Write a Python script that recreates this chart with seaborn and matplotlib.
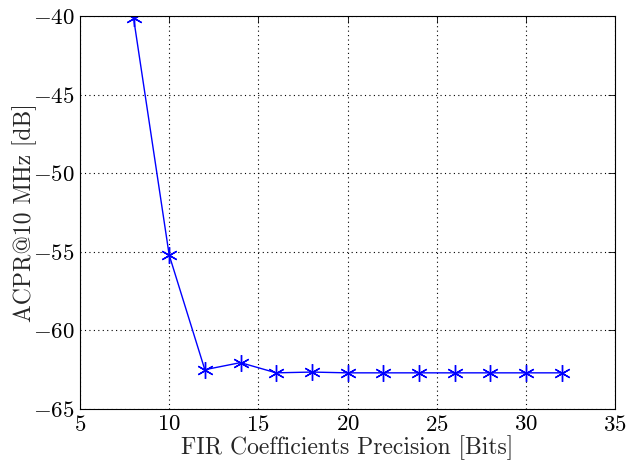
import matplotlib
matplotlib.use("Agg")
import matplotlib.pyplot as plt
import seaborn as sns
import pandas as pd

bits = [8, 10, 12, 14, 16, 18, 20, 22, 24, 26, 28, 30, 32]
acpr = [-40.1, -55.2, -62.5, -62.05, -62.7, -62.65, -62.7, -62.7, -62.7, -62.7, -62.7, -62.7, -62.7]
xticks = [5, 10, 15, 20, 25, 30, 35]
yticks = [-65, -60, -55, -50, -45, -40]

sns.set_theme(style="white")
plt.rcParams['font.family'] = ['cmr10']
plt.rcParams['mathtext.fontset'] = 'cm'
plt.rcParams['axes.formatter.use_mathtext'] = True
plt.rcParams['axes.unicode_minus'] = True

df = pd.DataFrame({"bits": bits, "acpr": acpr})

fig = plt.figure(figsize=(6.32, 4.70), dpi=100)
ax = fig.add_axes([80/632, 1 - 409/470, (615-80)/632, (409-16)/470])
sns.lineplot(data=df, x="bits", y="acpr", ax=ax, color="blue", marker=(6, 2, 0),
             markersize=12, markeredgecolor="blue", markerfacecolor="blue",
             linewidth=1.0, markeredgewidth=1.0)
ax.set_xlim(5, 35)
ax.set_ylim(-65, -40)
ax.set_xticks(xticks)
ax.set_yticks(yticks)
ax.grid(True, color="black", linestyle=(0, (1, 3)), linewidth=0.8)
ax.tick_params(direction="in", top=True, right=True, length=5, labelsize=16.5,
               colors="black", width=0.6, pad=4)
for s in ax.spines.values():
    s.set_color("black")
    s.set_linewidth(0.8)
ax.set_xlabel("FIR Coefficients Precision [Bits]", fontsize=17)
ax.set_ylabel("ACPR@10 MHz [dB]", fontsize=17)
ax.xaxis.set_label_coords(0.5, -0.068)
ax.yaxis.set_label_coords(-0.08, 0.5)
fig.savefig("out.png", dpi=100)
